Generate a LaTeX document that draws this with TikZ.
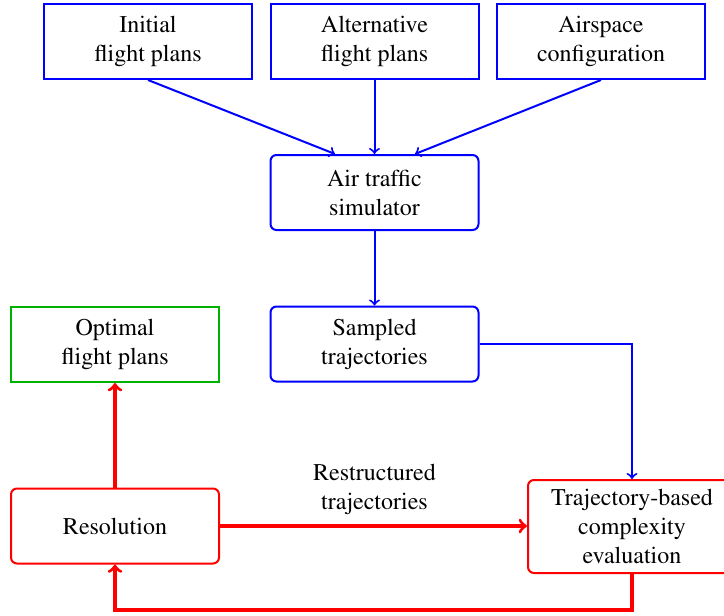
\documentclass[tikz,border=0pt]{standalone}
\usepackage[T1]{fontenc}
\usepackage{times}
\usetikzlibrary{calc}
\begin{document}
\begin{tikzpicture}[x=0.5pt,y=-0.5pt,
  every node/.style={font=\fontsize{12}{14.5}\selectfont, align=center, inner sep=0pt},
  box/.style={draw, line width=1pt, minimum width=104pt, minimum height=37.5pt},
  bluebox/.style={box, draw=blue},
  rbluebox/.style={box, draw=blue, rounded corners=3pt},
  greenbox/.style={box, draw=green!70!black},
  redbox/.style={box, draw=red, rounded corners=3pt},
  bluearrow/.style={->, draw=blue, line width=1pt},
  redarrow/.style={->, draw=red, line width=1.6pt},
]
\useasboundingbox (0,0) rectangle (724,616);
\node[bluebox] (init) at (148,41.5) {Initial\\flight plans};
\node[bluebox] (alt) at (374.5,41.5) {Alternative\\flight plans};
\node[bluebox] (air) at (601,41.5) {Airspace\\configuration};
\node[rbluebox] (sim) at (374.5,192.5) {Air traffic\\simulator};
\node[rbluebox] (samp) at (374.5,344) {Sampled\\trajectories};
\node[greenbox] (opt) at (115,344.5) {Optimal\\flight plans};
\node[redbox] (res) at (115,526) {Resolution};
\node[redbox, minimum height=46.5pt] (traj) at (632,526.5) {Trajectory-based\\complexity\\evaluation};
\node (restr) at (374.5,489) {Restructured\\trajectories};

\draw[bluearrow] (init.south) -- ($(sim.north)+(-39.5,0)$);
\draw[bluearrow] (alt.south) -- (sim.north);
\draw[bluearrow] (air.south) -- ($(sim.north)+(40.5,0)$);
\draw[bluearrow] (sim.south) -- (samp.north);
\draw[bluearrow] (samp.east) -| (traj.north);
\draw[redarrow] (res.east) -- (res.east -| traj.west);
\draw[redarrow] (res.north) -- (opt.south);
\coordinate (bot) at (632,610);
\draw[redarrow] (traj.south) -- (bot) -| (res.south);
\end{tikzpicture}
\end{document}
